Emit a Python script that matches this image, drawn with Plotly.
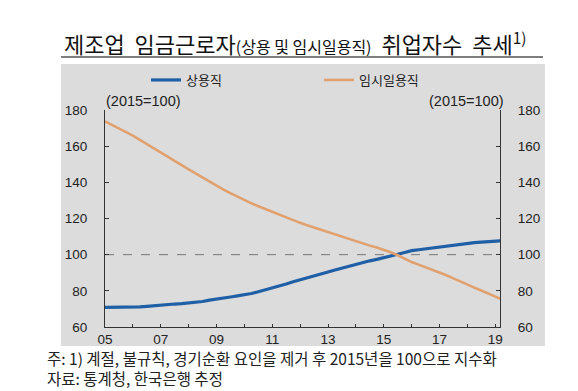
import plotly.graph_objects as go

# ---- data (quarterly; 2015 = 100) ----
quarters = [2005 + 0.25 * i for i in range(58)]  # 2005Q1 .. 2019Q2
regular = [  # 상용직
    70.8, 70.8, 70.9, 70.9,
    70.9, 71.1, 71.4, 71.8,
    72.2, 72.4, 72.7, 72.9,
    73.2, 73.6, 74.1, 74.9,
    75.6, 76.0, 76.6, 77.2,
    77.8, 78.5, 79.5, 80.5,
    81.5, 82.6, 83.8, 85.0,
    86.0, 87.2, 88.3, 89.4,
    90.4, 91.5, 92.6, 93.7,
    94.8, 95.7, 96.6, 97.4,
    98.2, 99.3, 100.2, 101.2,
    102.2, 102.7, 103.2, 103.6,
    104.1, 104.7, 105.3, 105.9,
    106.5, 106.7, 106.9, 107.2,
    107.4, 107.7,
]
temporary = [  # 임시일용직
    173.7, 171.8, 169.8, 167.8,
    165.8, 163.5, 161.1, 158.8,
    156.5, 154.2, 151.9, 149.5,
    147.2, 144.9, 142.6, 140.3,
    138.0, 136.0, 134.0, 132.0,
    130.0, 128.4, 126.8, 125.2,
    123.7, 122.2, 120.7, 119.1,
    117.6, 116.3, 115.0, 113.8,
    112.6, 111.3, 110.0, 108.7,
    107.4, 106.2, 105.0, 103.9,
    102.8, 101.3, 99.7, 97.8,
    95.9, 94.5, 93.1, 91.8,
    90.4, 88.6, 86.9, 85.1,
    83.4, 81.8, 80.2, 78.5,
    76.9, 75.2,
]
x_tick_vals = [2005, 2007, 2009, 2011, 2013, 2015, 2017, 2019]
x_tick_text = ["05", "07", "09", "11", "13", "15", "17", "19"]
y_tick_vals = [60, 80, 100, 120, 140, 160, 180]
base_value = 100

# ---- layout geometry (pixels) ----
W, H = 578, 391
L, R, T, B = 97, 492, 102, 319
FONT = "Noto Sans CJK KR, Liberation Sans, sans-serif"
TICKFONT = "Liberation Sans, Arial, sans-serif"


def px(xp):
    return (xp - L) / (R - L)


def py(yp):
    return (B - yp) / (B - T)


BLUE = "#1f5fa6"
ORANGE = "#e1a16f"
AXIS = "#333333"

fig = go.Figure()
fig.add_trace(go.Scatter(x=quarters, y=regular, name="상용직", mode="lines",
                         line=dict(color=BLUE, width=3.2)))
fig.add_trace(go.Scatter(x=quarters, y=temporary, name="임시일용직", mode="lines",
                         line=dict(color=ORANGE, width=2.6), yaxis="y2"))

yax = dict(range=[60, 180], tickvals=y_tick_vals, ticks="inside", ticklen=4,
           tickcolor=AXIS, showline=True, linecolor=AXIS, linewidth=1.2,
           showgrid=False, zeroline=False, ticklabelstandoff=14,
           tickfont=dict(family=TICKFONT, size=13.5, color="#222"))

fig.update_layout(
    width=W, height=H,
    margin=dict(l=L, r=W - R, t=T, b=H - B),
    paper_bgcolor="white", plot_bgcolor="rgba(0,0,0,0)",
    xaxis=dict(range=[2005.0, 2019.17], tickvals=x_tick_vals, ticktext=x_tick_text,
               ticks="inside", ticklen=3, tickcolor=AXIS, showline=True,
               linecolor=AXIS, linewidth=1.2, showgrid=False, zeroline=False,
               tickfont=dict(family=TICKFONT, size=13.5, color="#222"),
               minor=dict(dtick=1, tick0=2005, ticks="inside", ticklen=3, tickcolor=AXIS)),
    yaxis=dict(**yax, side="left"),
    yaxis2=dict(**yax, side="right", overlaying="y"),
    showlegend=True,
    legend=dict(orientation="h", x=px(138), y=py(72), xanchor="left", yanchor="middle",
                entrywidth=128, entrywidthmode="pixels", bgcolor="rgba(0,0,0,0)",
                font=dict(family=FONT, size=13, color="#222"), itemwidth=30),
)

# gray panel
fig.add_shape(type="rect", xref="paper", yref="paper", x0=px(53), x1=px(537),
              y0=py(338), y1=py(56), fillcolor="#dcdcdc", line=dict(width=0), layer="below")
# title underline
fig.add_shape(type="line", xref="paper", yref="paper", x0=px(53), x1=px(535),
              y0=py(49), y1=py(49), line=dict(color="#555555", width=1.5))
# base line at 100
fig.add_shape(type="line", xref="paper", yref="y", x0=0, x1=1, y0=base_value, y1=base_value,
              line=dict(color="#777777", width=1, dash="dash"), layer="below")

title = ("제조업&nbsp;&nbsp;임금근로자<span style='font-size:16px'>(상용 및 임시일용직)</span>&nbsp; "
         "취업자수&nbsp;&nbsp;추세<sup>1)</sup>")
fig.add_annotation(text=title, xref="paper", yref="paper", x=px(54), y=py(34),
                   xanchor="left", yanchor="middle", showarrow=False,
                   font=dict(family=FONT, size=22, color="#111"))
fig.add_annotation(text="(2015=100)", xref="paper", yref="paper", x=px(96), y=py(93),
                   xanchor="left", yanchor="middle", showarrow=False,
                   font=dict(family=TICKFONT, size=14.5, color="#222"))
fig.add_annotation(text="(2015=100)", xref="paper", yref="paper", x=px(498), y=py(93),
                   xanchor="right", yanchor="middle", showarrow=False,
                   font=dict(family=TICKFONT, size=14.5, color="#222"))
fig.add_annotation(text="주: 1) 계절, 불규칙, 경기순환 요인을 제거 후 2015년을 100으로 지수화",
                   xref="paper", yref="paper", x=px(37), y=py(350),
                   xanchor="left", yanchor="middle", showarrow=False,
                   font=dict(family=FONT, size=15.5, color="#222"))
fig.add_annotation(text="자료: 통계청, 한국은행 추정",
                   xref="paper", yref="paper", x=px(37), y=py(370),
                   xanchor="left", yanchor="middle", showarrow=False,
                   font=dict(family=FONT, size=15.5, color="#222"))

fig.write_html("out.html")
